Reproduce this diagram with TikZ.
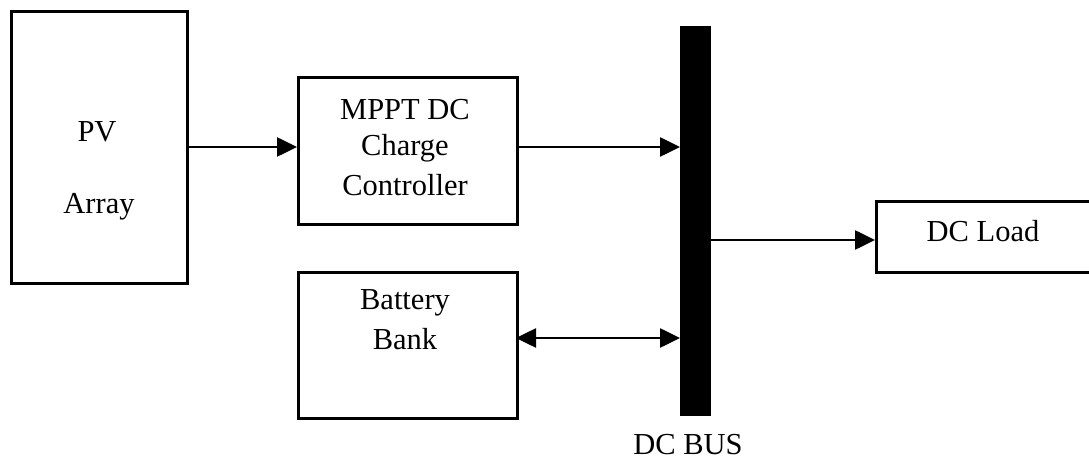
\documentclass[tikz,border=0pt]{standalone}
\usepackage{fontspec}
\setmainfont{Liberation Serif}
\usetikzlibrary{arrows.meta,positioning}
\begin{document}
\begin{tikzpicture}[x=1pt,y=-1pt,
  blk/.style={draw,line width=2.8pt,inner sep=0pt,anchor=north west},
  lbl/.style={font=\fontsize{30.5}{36}\selectfont,inner sep=0pt},
  conn/.style={line width=2.6pt,-{Triangle[length=20pt,width=19pt]}},
  biconn/.style={line width=2.6pt,{Triangle[length=20pt,width=19pt]}-{Triangle[length=20pt,width=19pt]}}]
\useasboundingbox (0,0) rectangle (1089,462);
\clip (0,0) rectangle (1089,462);
% blocks
\node[blk,minimum width=176pt,minimum height=272pt] (pv) at (10,10) {};
\node[blk,minimum width=219pt,minimum height=147pt] (mppt) at (297,76) {};
\node[blk,minimum width=219pt,minimum height=146pt] (batt) at (297,271) {};
\node[blk,minimum width=230pt,minimum height=71pt] (load) at (875,200) {};
\node[fill=black,draw=none,inner sep=0pt,anchor=north west,minimum width=31pt,minimum height=390pt] (bus) at (680,26) {};
% texts
\node[lbl] (pvt1) at (97,132) {PV};
\node[lbl] (pvt2) at (99,207) {Array};
\node[lbl] (m1) at (405,110) {MPPT DC};
\node[lbl] (m2) at (405,148) {Charge};
\node[lbl] (m3) at (405,185) {Controller};
\node[lbl] (b1) at (405,303) {Battery};
\node[lbl] (b2) at (405,339) {Bank};
\node[lbl] (lt) at (983,231) {DC Load};
\node[lbl] (bust) at (688,445) {DC BUS};
% connectors
\coordinate (pvo) at (186,147);
\draw[conn] (pvo) -- (mppt.west |- pvo);
\coordinate (mo) at (516,147);
\draw[conn] (mo) -- (bus.west |- mo);
\coordinate (bo) at (516,338);
\draw[biconn] (bo) -- (bus.west |- bo);
\coordinate (lo) at (711,240);
\draw[conn] (lo) -- (load.west |- lo);
\end{tikzpicture}
\end{document}
